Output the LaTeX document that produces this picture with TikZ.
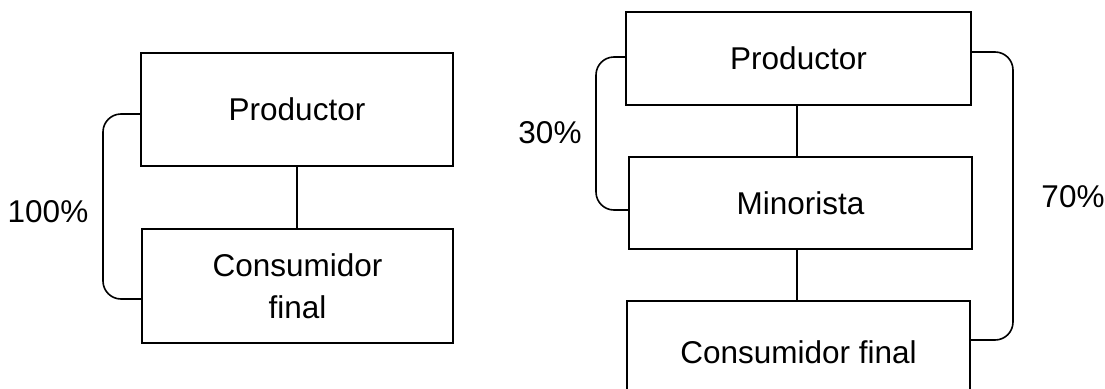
\documentclass[tikz,border=0pt]{standalone}
\usepackage{fontspec}
\setmainfont{Liberation Sans}
\begin{document}
\begin{tikzpicture}[x=1pt,y=-1pt,
  box/.style={draw,line width=1.8pt,inner sep=0pt,align=center,font=\fontsize{31.5}{42}\selectfont},
  link/.style={line width=1.6pt},
  brace/.style={line width=1.6pt,rounded corners=18pt},
  pct/.style={font=\fontsize{31.5}{38}\selectfont,inner sep=0pt}]
\useasboundingbox (0,0) rectangle (1105,388);
\clip (0,0) rectangle (1105,388);
% left diagram
\node[box,minimum width=312pt,minimum height=113pt] (lP) at (297,109.5) {Productor};
\node[box,minimum width=311pt,minimum height=114pt] (lC) at (297.5,286) {Consumidor\\final};
\draw[link] (lP.south) -- (lP.south |- lC.north);
\draw[brace] (lP.west |- 0,114) -- (103,114) -- (103,299) -- (lC.west |- 0,299);
\node[pct] (l100) at (48,212) {100\%};
% right diagram
\node[box,minimum width=345pt,minimum height=93pt] (rP) at (798.5,58.5) {Productor};
\node[box,minimum width=343pt,minimum height=92pt] (rM) at (800.5,203) {Minorista};
\node[box,minimum width=343pt,minimum height=102pt] (rC) at (798.5,352) {Consumidor final};
\draw[link] (797,0 |- rP.south) -- (797,0 |- rM.north);
\draw[link] (797,0 |- rM.south) -- (797,0 |- rC.north);
\draw[brace] (rP.west |- 0,57) -- (596,57) -- (596,210) -- (rM.west |- 0,210);
\draw[brace] (rP.east |- 0,52) -- (1013,52) -- (1013,340) -- (rC.east |- 0,340);
\node[pct] (r30) at (550,133) {30\%};
\node[pct] (r70) at (1073,197) {70\%};
\end{tikzpicture}
\end{document}
